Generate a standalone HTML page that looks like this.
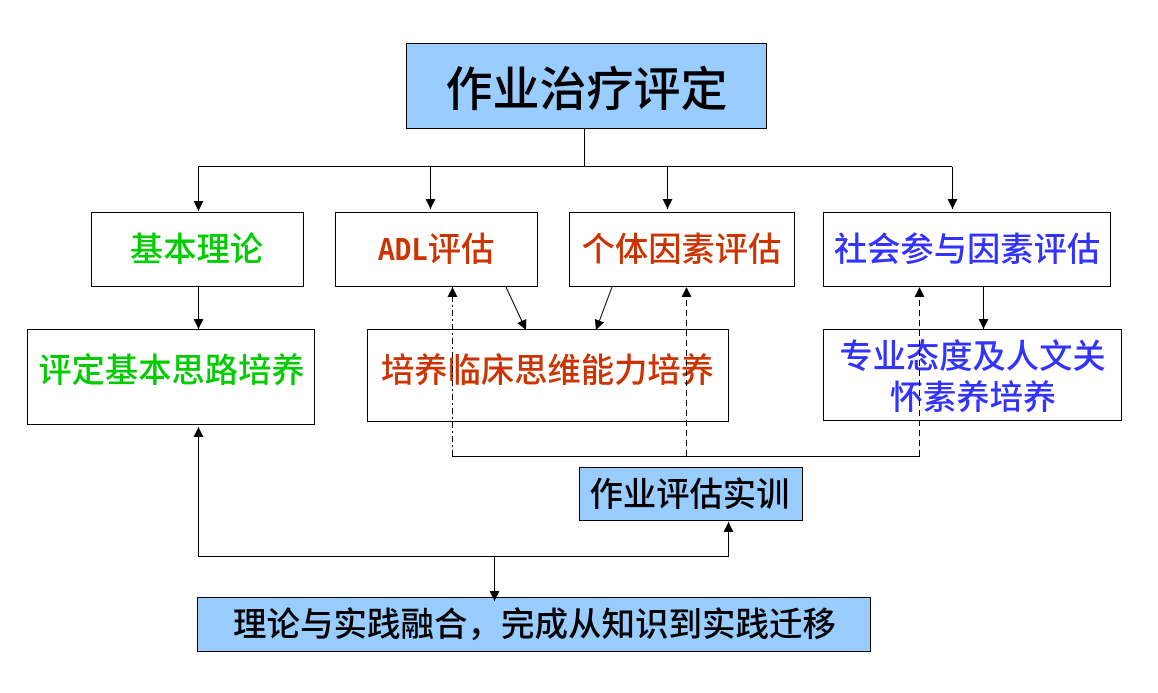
<!DOCTYPE html>
<html><head><meta charset="utf-8">
<style>
html,body{margin:0;padding:0;background:#fff}
svg{display:block}
text{font-family:"Liberation Sans","Noto Sans CJK SC","WenQuanYi Zen Hei",sans-serif;text-anchor:middle;font-weight:500}
text.m{font-family:"Liberation Mono",monospace;font-weight:700;text-anchor:start}
</style></head><body>
<svg width="1158" height="693" viewBox="0 0 1158 693" xmlns="http://www.w3.org/2000/svg">
<defs>
<marker id="a" markerUnits="userSpaceOnUse" markerWidth="11" markerHeight="11" refX="10" refY="5.500" orient="auto"><path d="M0,0.500L10,5.500L0,10.500z" fill="#000"/></marker>
</defs>
<g fill="#fff" stroke="#000" stroke-width="1">
<rect x="406.500" y="43.500" width="360" height="85" fill="#99ccff"/>
<rect x="91.500" y="212.500" width="212" height="74"/>
<rect x="335.500" y="212.500" width="202" height="74"/>
<rect x="569.500" y="212.500" width="225" height="74"/>
<rect x="823.500" y="212.500" width="287" height="74"/>
<rect x="27.500" y="329.500" width="287" height="95"/>
<rect x="367.500" y="329.500" width="361" height="92"/>
<rect x="823.500" y="329.500" width="298" height="91"/>
<rect x="579.500" y="467.500" width="223" height="53" fill="#99ccff"/>
<rect x="197.500" y="597.500" width="673" height="54" fill="#99ccff"/>
</g>
<text x="586.500" y="106" font-size="47" fill="#000">作业治疗评定</text>
<text x="196.500" y="261" font-size="33.300" fill="#00cc00">基本理论</text>
<text class="m" x="378" y="260" font-size="33" fill="#cc3300" textLength="50" lengthAdjust="spacingAndGlyphs">ADL</text>
<text x="461" y="261" font-size="33.300" fill="#cc3300">评估</text>
<text x="681.500" y="261" font-size="33.300" fill="#cc3300">个体因素评估</text>
<text x="967" y="261" font-size="33.300" fill="#3333ff">社会参与因素评估</text>
<text x="171.500" y="382" font-size="33.300" fill="#00cc00">评定基本思路培养</text>
<text x="547.500" y="382" font-size="33.300" fill="#cc3300">培养临床思维能力培养</text>
<text x="972.500" y="368" font-size="33.300" fill="#3333ff">专业态度及人文关</text>
<text x="973" y="409" font-size="33.300" fill="#3333ff">怀素养培养</text>
<text x="689.500" y="506" font-size="33.300" fill="#000">作业评估实训</text>
<text x="534.500" y="636" font-size="33.500" fill="#000">理论与实践融合，完成从知识到实践迁移</text>
<g fill="none" stroke="#000" stroke-width="1">
<path d="M584.500 128V166.500M198 166.500H952"/>
<path d="M198.500 167V211" marker-end="url(#a)"/>
<path d="M430.500 167V209" marker-end="url(#a)"/>
<path d="M667.500 167V209" marker-end="url(#a)"/>
<path d="M952.500 167V209" marker-end="url(#a)"/>
<path d="M198.500 287V329" marker-end="url(#a)"/>
<path d="M983.500 287V329" marker-end="url(#a)"/>
<path d="M506 287L526 330" marker-end="url(#a)"/>
<path d="M612 287L596 330" marker-end="url(#a)"/>
<path d="M452 456.500H920"/>
<path d="M452.500 456V287" stroke-dasharray="6 3 2 3" marker-end="url(#a)"/>
<path d="M686.500 456V287" stroke-dasharray="6 4" marker-end="url(#a)"/>
<path d="M919.500 456V287" stroke-dasharray="6 4" marker-end="url(#a)"/>
<path d="M198.500 556.500V427" marker-end="url(#a)"/>
<path d="M198 556.500H729"/>
<path d="M728.500 556.500V522" marker-end="url(#a)"/>
<path d="M494.500 557V601" marker-end="url(#a)"/>
</g>
</svg>
</body></html>
